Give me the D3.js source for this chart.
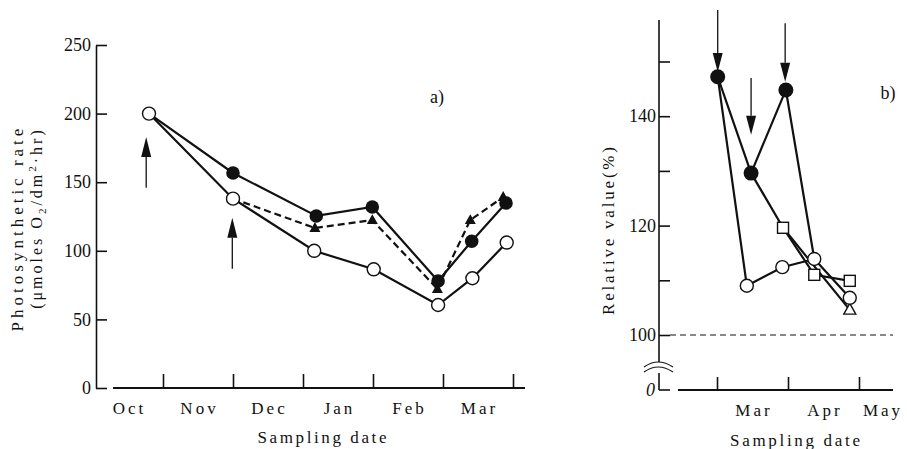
<!DOCTYPE html>
<html lang="en">
<head>
<meta charset="UTF-8">
<title>Photosynthetic rate</title>
<style>
  body { margin: 0; background: #fff; }
  svg { display: block; }
  svg text { font-family: "Liberation Serif", "Times New Roman", "DejaVu Serif", serif; fill: #111; }
  .axis path, .axis line { stroke: #111; stroke-width: 1.6; }
  .axis text { font-size: 18px; }
  .line { fill: none; stroke: #111; stroke-width: 2.2; }
  .dashed { stroke-dasharray: 7,4; }
  .month { font-size: 17px; letter-spacing: 3px; }
  .title { font-size: 17px; }
</style>
</head>
<body>
<script src="https://d3js.org/d3.v7.min.js"></script>
<script>
// ---- panel a : dates are months counted from 1 Oct ----
const monthsA = ['Oct', 'Nov', 'Dec', 'Jan', 'Feb', 'Mar'];
const ticksA = [0, 50, 100, 150, 200, 250];

const openDatesA = [0.8, 2.0, 3.16, 4.01, 4.93, 5.42, 5.91];
const openValuesA = [200, 138, 100, 86.5, 60.5, 80, 106];

const filledDatesA = [0.8, 2.0, 3.19, 3.99, 4.93, 5.41, 5.9];
const filledValuesA = [200, 156.7, 125.4, 131.9, 78, 107, 134.8];

const triDatesA = [2.0, 3.17, 3.99, 4.92, 5.39, 5.86];
const triValuesA = [138, 116.6, 122.4, 72.2, 122.4, 139.2];

const arrowDatesA = [0.76, 1.99];
const arrowTailA = [146, 87];
const arrowTipA = [183, 124];

// ---- panel b : dates are months counted from 1 Mar ----
const monthsB = ['Mar', 'Apr', 'May'];
const ticksB = [100, 110, 120, 130, 140, 150];
const labelledB = [100, 120, 140];

const lineB1 = { dates: [0.01, 0.42, 0.92, 1.37], values: [147.2, 109, 112.4, 113.9] };
const lineB2 = { dates: [0.01, 0.48, 0.97, 1.37, 1.87], values: [147.2, 129.6, 144.8, 113.9, 106.8] };
const lineB3 = { dates: [0.48, 0.93, 1.37, 1.87], values: [129.6, 119.6, 111, 109.9] };
const lineB4 = { dates: [0.93, 1.87], values: [119.6, 104.6] };

const filledB = { dates: [0.01, 0.48, 0.97], values: [147.2, 129.6, 144.8] };
const openB = { dates: [0.42, 0.92, 1.37, 1.87], values: [109, 112.4, 113.9, 106.8] };
const squareB = { dates: [0.93, 1.37, 1.87], values: [119.6, 111, 109.9] };
const triangleB = { dates: [1.87], values: [104.6] };

const arrowDatesB = [0.01, 0.48, 0.96];
const arrowTailB = [159.4, 147, 157];
const arrowTipB = [148.1, 136.6, 146.3];

const width = 907, height = 449;
const svg = d3.select('body').append('svg').attr('width', width).attr('height', height);
svg.append('rect').attr('width', width).attr('height', height).attr('fill', '#fff');

function arrow(g, x, y1, y2, len, w) {
    const s = Math.sign(y2 - y1);
    g.append('line').attr('x1', x).attr('x2', x).attr('y1', y1).attr('y2', y2 - s * len)
        .attr('stroke', '#111').attr('stroke-width', 1.3);
    g.append('path').attr('d', `M${x},${y2}L${x - w / 2},${y2 - s * len}L${x + w / 2},${y2 - s * len}Z`)
        .attr('fill', '#111');
}

function tri(x, y, s) {
    const h = s * 0.9;
    return `M${x},${y - h * 0.6}L${x + s / 2},${y + h * 0.4}L${x - s / 2},${y + h * 0.4}Z`;
}

// ================= panel a =================
const xA = d3.scaleLinear().domain([0, 6]).range([93, 513]);
const yA = d3.scaleLinear().domain([0, 250]).range([388, 45]);
const gA = svg.append('g');

gA.append('g').attr('class', 'axis').attr('transform', 'translate(96,0)')
    .call(d3.axisLeft(yA).tickValues(ticksA).tickSizeInner(-11).tickSizeOuter(0).tickPadding(5))
    .attr('font-family', null);

const xAxA = gA.append('g').attr('class', 'axis').attr('transform', 'translate(0,388)')
    .call(d3.axisBottom(xA).tickValues(d3.range(1, 7)).tickSizeInner(-14).tickSizeOuter(0).tickFormat(''));
xAxA.select('.domain').remove();
gA.append('line').attr('x1', 113).attr('x2', 525).attr('y1', 388).attr('y2', 388)
    .attr('stroke', '#111').attr('stroke-width', 1.8);

gA.selectAll('.monthA').data(monthsA).enter().append('text')
    .attr('class', 'month').attr('x', (d, i) => xA(i + 0.5) + 1.5).attr('y', 414)
    .attr('text-anchor', 'middle').text(d => d);

const lineA = (dates, vals) => d3.line().x((d, i) => xA(dates[i])).y(d => yA(d))(vals);

gA.append('path').attr('class', 'line dashed').attr('d', lineA(triDatesA, triValuesA));
gA.append('path').attr('class', 'line').attr('d', lineA(filledDatesA, filledValuesA));
gA.append('path').attr('class', 'line').attr('d', lineA(openDatesA, openValuesA));

gA.selectAll('.triA').data(triValuesA.slice(1)).enter().append('path')
    .attr('d', (d, i) => tri(xA(triDatesA[i + 1]), yA(d), 11)).attr('fill', '#111');
gA.selectAll('.filledA').data(filledValuesA.slice(1)).enter().append('circle')
    .attr('cx', (d, i) => xA(filledDatesA[i + 1])).attr('cy', d => yA(d)).attr('r', 6.8).attr('fill', '#111');
gA.selectAll('.openA').data(openValuesA).enter().append('circle')
    .attr('cx', (d, i) => xA(openDatesA[i])).attr('cy', d => yA(d)).attr('r', 6.5)
    .attr('fill', '#fff').attr('stroke', '#111').attr('stroke-width', 1.4);

arrowDatesA.forEach((d, i) => arrow(gA, xA(d), yA(arrowTailA[i]), yA(arrowTipA[i]), 20, 10));

gA.append('text').attr('x', 437).attr('y', 103).attr('text-anchor', 'middle')
    .style('font-size', '18px').text('a)');

gA.append('text').attr('class', 'title').attr('transform', 'translate(23,228) rotate(-90)')
    .attr('text-anchor', 'middle').style('font-size', '17px').style('letter-spacing', '4px')
    .text('Photosynthetic rate');
const t2 = gA.append('text').attr('class', 'title').attr('transform', 'translate(42,218) rotate(-90)')
    .attr('text-anchor', 'middle').style('font-size', '16px').style('letter-spacing', '3px');
t2.append('tspan').text('(\u03bcmoles O');
t2.append('tspan').attr('dy', 4).style('font-size', '11px').text('2');
t2.append('tspan').attr('dy', -4).text('/dm');
t2.append('tspan').attr('dy', -6).style('font-size', '11px').text('2');
t2.append('tspan').attr('dy', 6).text('\u00b7hr)');

gA.append('text').attr('class', 'title').attr('x', 322).attr('y', 443).attr('text-anchor', 'middle')
    .attr('textLength', 129).attr('lengthAdjust', 'spacing').text('Sampling date');

// ================= panel b =================
const xB = d3.scaleLinear().domain([0, 2]).range([717, 859]);
const yB = d3.scaleLinear().domain([100, 150]).range([335, 61.5]);
const gB = svg.append('g');

const yAxB = gB.append('g').attr('class', 'axis').attr('transform', 'translate(659,0)')
    .call(d3.axisLeft(yB).tickValues(ticksB).tickSizeInner(-11).tickSizeOuter(0).tickPadding(3)
        .tickFormat(d => labelledB.includes(d) ? d : ''))
    .attr('font-family', null);
yAxB.select('.domain').remove();
gB.append('line').attr('x1', 659).attr('x2', 659).attr('y1', 20).attr('y2', 362)
    .attr('stroke', '#111').attr('stroke-width', 1.6);
gB.append('line').attr('x1', 659).attr('x2', 659).attr('y1', 373).attr('y2', 390)
    .attr('stroke', '#111').attr('stroke-width', 1.6);
gB.append('line').attr('x1', 659).attr('x2', 670).attr('y1', 390).attr('y2', 390)
    .attr('stroke', '#111').attr('stroke-width', 1.6);
gB.append('text').attr('x', 655).attr('y', 396).attr('text-anchor', 'end')
    .style('font-size', '18px').style('font-style', 'italic').text('0');
// axis break
gB.append('path').attr('d', 'M644,367 Q658,357 673,367 M644,372 Q658,362 673,372')
    .attr('fill', 'none').attr('stroke', '#111').attr('stroke-width', 1.2);

const xAxB = gB.append('g').attr('class', 'axis').attr('transform', 'translate(0,390)')
    .call(d3.axisBottom(xB).tickValues([0, 1, 2]).tickSizeInner(-13).tickSizeOuter(0).tickFormat(''));
xAxB.select('.domain').remove();
gB.append('line').attr('x1', 678).attr('x2', 893).attr('y1', 390).attr('y2', 390)
    .attr('stroke', '#111').attr('stroke-width', 1.8);

gB.selectAll('.monthB').data(monthsB).enter().append('text')
    .attr('class', 'month').attr('x', (d, i) => Math.min(xB(i + 0.5) + 1.5, width - 24)).attr('y', 416)
    .attr('text-anchor', 'middle').text(d => d);

gB.append('line').attr('x1', 670).attr('x2', 893).attr('y1', yB(100)).attr('y2', yB(100))
    .attr('stroke', '#111').attr('stroke-width', 1).attr('stroke-dasharray', '6,4');

const lineB = s => d3.line().x((d, i) => xB(s.dates[i])).y(d => yB(d))(s.values);
[lineB1, lineB2, lineB3, lineB4].forEach(s => gB.append('path').attr('class', 'line').attr('d', lineB(s)));

gB.selectAll('.sqB').data(squareB.values).enter().append('rect')
    .attr('x', (d, i) => xB(squareB.dates[i]) - 5.5).attr('y', d => yB(d) - 5.5)
    .attr('width', 11).attr('height', 11).attr('fill', '#fff').attr('stroke', '#111').attr('stroke-width', 1.4);
gB.selectAll('.triB').data(triangleB.values).enter().append('path')
    .attr('d', (d, i) => tri(xB(triangleB.dates[i]), yB(d), 12))
    .attr('fill', '#fff').attr('stroke', '#111').attr('stroke-width', 1.4);
gB.selectAll('.openB').data(openB.values).enter().append('circle')
    .attr('cx', (d, i) => xB(openB.dates[i])).attr('cy', d => yB(d)).attr('r', 6.5)
    .attr('fill', '#fff').attr('stroke', '#111').attr('stroke-width', 1.4);
gB.selectAll('.filledB').data(filledB.values).enter().append('circle')
    .attr('cx', (d, i) => xB(filledB.dates[i])).attr('cy', d => yB(d)).attr('r', 7.5).attr('fill', '#111');

arrowDatesB.forEach((d, i) => arrow(gB, xB(d), yB(arrowTailB[i]), yB(arrowTipB[i]), 19, 10));

gB.append('text').attr('x', 888).attr('y', 99).attr('text-anchor', 'middle')
    .style('font-size', '18px').text('b)');

gB.append('text').attr('class', 'title').attr('transform', 'translate(614,231) rotate(-90)')
    .attr('text-anchor', 'middle').style('font-size', '17px')
    .attr('textLength', 168).attr('lengthAdjust', 'spacing').text('Relative value(%)');

gB.append('text').attr('class', 'title').attr('x', 795).attr('y', 446).attr('text-anchor', 'middle')
    .attr('textLength', 130).attr('lengthAdjust', 'spacing').text('Sampling date');
</script>
</body>
</html>
